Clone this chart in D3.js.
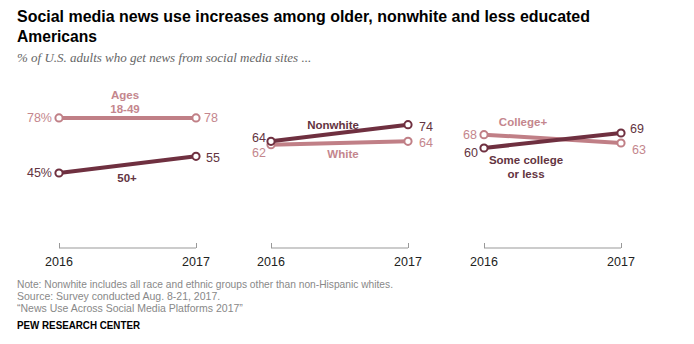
<!DOCTYPE html>
<html>
<head>
<meta charset="utf-8">
<script src="https://cdn.jsdelivr.net/npm/d3@7"></script>
<style>
  body { margin: 0; background: #fff; }
  svg { display: block; font-family: "Liberation Sans", Arial, sans-serif; }
</style>
</head>
<body>
<svg id="chart" width="694" height="344"></svg>
<script>
// chart values
const years = [2016, 2017];
const panelNames = ["age", "race", "education"];
const ages1849 = [78, 78];
const ages50plus = [45, 55];
const nonwhite = [64, 74];
const white = [62, 64];
const collegePlus = [68, 63];
const someCollege = [60, 69];

const light = "#c07f86";
const dark = "#6f3040";
const lightText = "#c4868d";
const darkText = "#633441";

const svg = d3.select("#chart");

// title block
svg.append("text").attr("x", 17).attr("y", 22)
  .attr("font-size", 17).attr("font-weight", "bold").attr("fill", "#000")
  .attr("textLength", 573).attr("lengthAdjust", "spacingAndGlyphs")
  .text("Social media news use increases among older, nonwhite and less educated");
svg.append("text").attr("x", 17).attr("y", 42)
  .attr("font-size", 17).attr("font-weight", "bold").attr("fill", "#000")
  .attr("textLength", 80).attr("lengthAdjust", "spacingAndGlyphs")
  .text("Americans");
svg.append("text").attr("x", 17).attr("y", 62)
  .attr("font-family", "'Liberation Serif', Georgia, serif")
  .attr("font-style", "italic").attr("font-size", 13).attr("fill", "#666")
  .text("% of U.S. adults who get news from social media sites ...");

const y = d3.scaleLinear().domain([0, 100]).range([248, 81.3]);
const panelLeft = [59, 271, 484];
const panelWidth = 137;

const panels = [
  {
    series: [
      { values: ages1849, color: light, text: lightText, left: ["78%", -7, 0], right: ["78", 8, 0] },
      { values: ages50plus, color: dark, text: darkText, left: ["45%", -7, 0], right: ["55", 10, 1] }
    ],
    labels: [
      { lines: ["Ages", "18-49"], fill: lightText, dx: 66, yv: 78, dy: [-23, -9] },
      { lines: ["50+"], fill: darkText, dx: 68, yv: 45, dy: [5] }
    ]
  },
  {
    series: [
      { values: white, color: light, text: lightText, left: ["62", -5, 8], right: ["64", 11, 1] },
      { values: nonwhite, color: dark, text: darkText, left: ["64", -5, -4], right: ["74", 11, 2] }
    ],
    labels: [
      { lines: ["Nonwhite"], fill: darkText, dx: 62, yv: 74, dy: [0] },
      { lines: ["White"], fill: lightText, dx: 72, yv: 62, dy: [9] }
    ]
  },
  {
    series: [
      { values: collegePlus, color: light, text: lightText, left: ["68", -7, 0], right: ["63", 11, 7] },
      { values: someCollege, color: dark, text: darkText, left: ["60", -6, 5], right: ["69", 9, -4] }
    ],
    labels: [
      { lines: ["College+"], fill: lightText, dx: 39, yv: 68, dy: [-13] },
      { lines: ["Some college", "or less"], fill: darkText, dx: 42, yv: 60, dy: [12, 26] }
    ]
  }
];

panels.forEach((p, i) => {
  const x = d3.scaleLinear().domain(years).range([panelLeft[i], panelLeft[i] + panelWidth]);
  const g = svg.append("g").attr("class", panelNames[i]);

  // axis with end ticks
  const axis = d3.axisTop(x).tickValues(years).tickSize(5).tickFormat("");
  const ax = g.append("g").attr("transform", `translate(0,${y(0)})`).call(axis);
  ax.select(".domain").remove();
  ax.selectAll("line").attr("stroke", "#999");
  ax.append("line").attr("x1", x(2016)).attr("x2", x(2017))
    .attr("stroke", "#999").attr("stroke-width", 1);
  g.selectAll("text.year").data(years).join("text").attr("class", "year")
    .attr("x", d => x(d)).attr("y", 266).attr("text-anchor", "middle")
    .attr("font-size", 12.5).attr("fill", "#222").text(d => d);

  const line = d3.line().x((d, j) => x(years[j])).y(d => y(d));

  p.series.forEach(s => {
    g.append("path").datum(s.values).attr("d", line)
      .attr("fill", "none").attr("stroke", s.color).attr("stroke-width", 4);
    g.selectAll(null).data(s.values).join("circle")
      .attr("cx", (d, j) => x(years[j])).attr("cy", d => y(d)).attr("r", 3.6)
      .attr("fill", "#fff").attr("stroke", s.color).attr("stroke-width", 2);
    g.append("text").attr("x", x(2016) + s.left[1]).attr("y", y(s.values[0]) + s.left[2])
      .attr("dy", "0.35em").attr("text-anchor", "end")
      .attr("font-size", 12.5).attr("fill", s.text).text(s.left[0]);
    g.append("text").attr("x", x(2017) + s.right[1]).attr("y", y(s.values[1]) + s.right[2])
      .attr("dy", "0.35em").attr("text-anchor", "start")
      .attr("font-size", 12.5).attr("fill", s.text).text(s.right[0]);
  });

  p.labels.forEach(l => {
    l.lines.forEach((t, k) => {
      g.append("text").attr("x", x(2016) + l.dx).attr("y", y(l.yv) + l.dy[k])
        .attr("dy", "0.35em").attr("text-anchor", "middle")
        .attr("font-size", 11.5).attr("font-weight", "bold").attr("fill", l.fill).text(t);
    });
  });
});

// notes
const notes = [
  "Note: Nonwhite includes all race and ethnic groups other than non-Hispanic whites.",
  "Source: Survey conducted Aug. 8-21, 2017.",
  "\u201cNews Use Across Social Media Platforms 2017\u201d"
];
svg.selectAll("text.note").data(notes).join("text").attr("class", "note")
  .attr("x", 17).attr("y", (d, i) => 288 + i * 12)
  .attr("font-size", 10.5).attr("fill", "#888")
  .attr("textLength", (d, i) => i === 0 ? 376 : null)
  .attr("lengthAdjust", "spacingAndGlyphs")
  .text(d => d);
svg.append("text").attr("x", 17).attr("y", 329)
  .attr("font-size", 10.5).attr("font-weight", "bold").attr("fill", "#000")
  .attr("textLength", 123).attr("lengthAdjust", "spacingAndGlyphs")
  .text("PEW RESEARCH CENTER");
</script>
</body>
</html>
